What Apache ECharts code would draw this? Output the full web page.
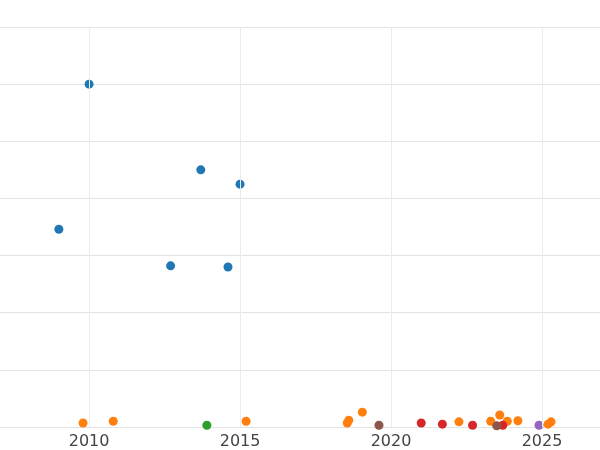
<!DOCTYPE html><html><head><meta charset="utf-8"><script src="https://cdn.jsdelivr.net/npm/echarts@6/dist/echarts.min.js"></script></head><body style="margin:0"><div id="c" style="width:600px;height:450px"></div><script>
const blue=[[2009.0,3.46],[2010.0,6.0],[2012.7,2.82],[2013.7,4.5],[2014.6,2.8],[2015.0,4.25]];
const orange=[[2009.8,0.07],[2010.8,0.1],[2015.2,0.1],[2018.6,0.12],[2018.55,0.07],[2019.05,0.26],[2022.25,0.09],[2023.3,0.1],[2023.6,0.21],[2023.85,0.1],[2024.2,0.11],[2025.3,0.09],[2025.2,0.05]];
const green=[[2013.9,0.03]];
const red=[[2021.0,0.07],[2021.7,0.05],[2022.7,0.03],[2023.7,0.03]];
const purple=[[2024.9,0.03]];
const brown=[[2019.6,0.03],[2023.5,0.02]];
const xTicks=[2010,2015,2020,2025];
const sets=[[blue,'#1f77b4'],[orange,'#ff7f0e'],[green,'#2ca02c'],[red,'#d62728'],[purple,'#9467bd'],[brown,'#8c564b']];
const series=sets.map(([d,c])=>({type:'scatter',data:d,symbolSize:9,clip:false,z:3,itemStyle:{color:c,opacity:1}}));
series.unshift({type:'scatter',data:[],z:1,markLine:{silent:true,symbol:'none',label:{show:false},lineStyle:{color:'#ebebeb',type:'solid',width:1},data:xTicks.map(v=>({xAxis:v}))}});
echarts.init(document.getElementById('c')).setOption({
textStyle:{fontFamily:'DejaVu Sans'},
grid:{left:0,right:0,top:27,bottom:23},
xAxis:{type:'value',min:2007.05,max:2026.92,axisLine:{show:false},axisTick:{show:false},
 axisLabel:{fontSize:16,color:'#444',margin:7,fontFamily:'DejaVu Sans',customValues:xTicks,formatter:v=>String(v)},
 splitLine:{show:false}},
yAxis:{type:'value',min:0,max:7,interval:1,axisLabel:{show:false},axisLine:{show:false},axisTick:{show:false},splitLine:{lineStyle:{color:'#e3e3e3'}}},
series
});
</script></body></html>
